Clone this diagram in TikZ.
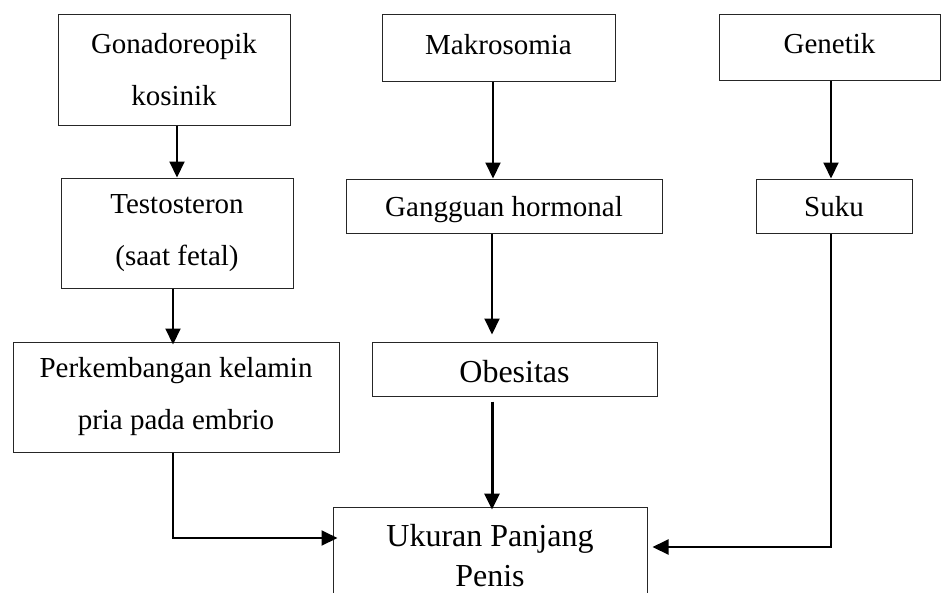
\documentclass[tikz,border=0pt]{standalone}
\usepackage{fontspec}
\setmainfont{Liberation Serif}
\usetikzlibrary{arrows.meta}
\begin{document}
\begin{tikzpicture}[x=1pt,y=-1pt,
  box/.style={draw=black!85, line width=1pt, inner sep=0pt, align=center,
    font=\fontsize{29}{52}\selectfont},
  onebox/.style={box, text height=20pt, text depth=6.4pt},
  lowbox/.style={box, text height=28pt, text depth=6.4pt},
  bigbox/.style={box, font=\fontsize{32}{40}\selectfont},
  arr/.style={line width=2pt, -{Triangle[length=16pt,width=15pt]}}]
\useasboundingbox (0,0) rectangle (941,592);
\clip (0,0) rectangle (941,592);
\fill[white] (0,0) rectangle (941,592);
% nodes
\node[box, minimum width=232pt, minimum height=111pt] (gon) at (174,69.5) {Gonadoreopik\\kosinik};
\node[box, minimum width=232pt, minimum height=110pt] (testo) at (177,233) {Testosteron\\(saat fetal)};
\node[box, minimum width=326pt, minimum height=110pt] (perk) at (176,397) {Perkembangan kelamin\\pria pada embrio};
\node[onebox, minimum width=233pt, minimum height=67pt] (makro) at (498.5,47.5) {Makrosomia};
\node[lowbox, minimum width=316pt, minimum height=54pt] (gang) at (504,206) {Gangguan hormonal};
\node[box, font=\fontsize{32}{40}\selectfont, text height=34pt, text depth=7pt, minimum width=285pt, minimum height=54pt] (obe) at (514.5,369) {Obesitas};
\node[onebox, minimum width=221pt, minimum height=66pt] (gen) at (829.5,47) {Genetik};
\node[lowbox, minimum width=156pt, minimum height=54pt] (suku) at (834,206) {Suku};
\node[bigbox, minimum width=314pt, minimum height=98pt] (uk) at (490,556) {Ukuran Panjang\\Penis};
% connectors
\draw[arr] (testo.north |- gon.south) -- (testo.north);
\draw[arr, shorten >=-3pt] ([xshift=-4pt]testo.south) -- ([xshift=-4pt]testo.south |- perk.north);
\draw[arr, shorten >=-5pt] ([xshift=-3pt]perk.south) |- ([yshift=18pt]uk.west);
\draw[arr] ([xshift=-5.5pt]makro.south) -- ([xshift=-5.5pt]makro.south |- gang.north);
\draw[arr, shorten >=7pt] ([xshift=-12pt]gang.south) -- ([xshift=-12pt]gang.south |- obe.north);
\draw[arr, line width=3pt, shorten <=5pt, shorten >=-3pt] ([xshift=-22.5pt]obe.south) -- ([xshift=-22.5pt]obe.south |- uk.north);
\draw[arr] ([xshift=1.5pt]gen.south) -- ([xshift=1.5pt]gen.south |- suku.north);
\draw[arr, shorten >=5pt] ([xshift=-3pt]suku.south) |- ([yshift=9pt]uk.east);
\end{tikzpicture}
\end{document}
